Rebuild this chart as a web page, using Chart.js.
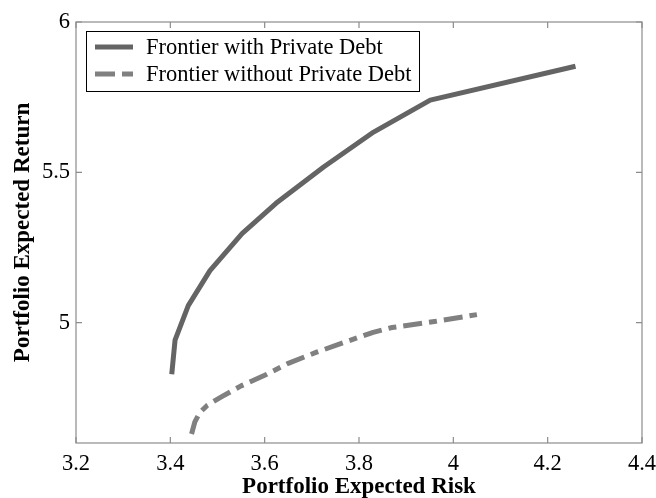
<!DOCTYPE html>
<html>
<head>
<meta charset="utf-8">
<script src="https://cdn.jsdelivr.net/npm/chart.js@4.4.1/dist/chart.umd.min.js"></script>
<style>
html,body{margin:0;padding:0;background:#fff;}
#wrap{width:656px;height:498px;position:relative;}
</style>
</head>
<body>
<div id="wrap"><canvas id="c" width="656" height="498"></canvas></div>
<script>
// Data
const withRisk = [3.403, 3.410, 3.438, 3.484, 3.552, 3.624, 3.725, 3.831, 3.951, 4.259];
const withReturn = [4.829, 4.942, 5.057, 5.173, 5.296, 5.397, 5.518, 5.634, 5.740, 5.853];
const withoutRisk = [3.445, 3.452, 3.462, 3.478, 3.510, 3.550, 3.600, 3.650, 3.710, 3.775, 3.830, 3.870, 3.960, 4.050];
const withoutReturn = [4.630, 4.670, 4.700, 4.725, 4.755, 4.790, 4.825, 4.865, 4.902, 4.938, 4.968, 4.984, 5.004, 5.027];
const xTicks = [3.2, 3.4, 3.6, 3.8, 4.0, 4.2, 4.4];
const yTicks = [5, 5.5, 6];
const seriesLabels = ['Frontier with Private Debt', 'Frontier without Private Debt'];
const xTitle = 'Portfolio Expected Risk';
const yTitle = 'Portfolio Expected Return';

const toPts = (xs, ys) => xs.map((x, i) => ({x: x, y: ys[i]}));
const serif = "'Liberation Serif', 'Times New Roman', serif";

const framePlugin = {
  id: 'frame',
  afterDatasetsDraw(chart) {
    const {ctx, chartArea: a, scales} = chart;
    ctx.save();
    ctx.strokeStyle = '#8c8c8c';
    ctx.lineWidth = 1.2;
    ctx.strokeRect(a.left, a.top, a.right - a.left, a.bottom - a.top);
    const L = 6;
    ctx.beginPath();
    xTicks.forEach(v => {
      const px = scales.x.getPixelForValue(v);
      ctx.moveTo(px, a.bottom); ctx.lineTo(px, a.bottom - L);
      ctx.moveTo(px, a.top); ctx.lineTo(px, a.top + L);
    });
    yTicks.forEach(v => {
      const py = scales.y.getPixelForValue(v);
      ctx.moveTo(a.left, py); ctx.lineTo(a.left + L, py);
      ctx.moveTo(a.right, py); ctx.lineTo(a.right - L, py);
    });
    ctx.stroke();

    // legend box inside the plot
    const bx = 86, by = 31, bw = 333, bh = 60;
    ctx.fillStyle = '#fff';
    ctx.fillRect(bx, by, bw, bh);
    ctx.strokeStyle = '#000';
    ctx.lineWidth = 1;
    ctx.strokeRect(bx + 0.5, by + 0.5, bw, bh);
    ctx.font = '22.5px ' + serif;
    ctx.textBaseline = 'middle';
    chart.data.datasets.forEach((ds, i) => {
      const yy = by + 16 + i * 27;
      ctx.strokeStyle = ds.borderColor;
      ctx.lineWidth = ds.borderWidth;
      ctx.setLineDash(ds.borderDash && ds.borderDash.length ? [20, 7] : []);
      ctx.beginPath();
      ctx.moveTo(95, yy); ctx.lineTo(133, yy);
      ctx.stroke();
      ctx.setLineDash([]);
      ctx.fillStyle = '#000';
      ctx.fillText(ds.label, 146, yy + 1);
    });
    ctx.restore();
  }
};

new Chart(document.getElementById('c'), {
  type: 'line',
  data: {
    datasets: [
      {
        label: seriesLabels[0],
        data: toPts(withRisk, withReturn),
        borderColor: '#646464',
        borderWidth: 5,
        pointRadius: 0,
        tension: 0,
        fill: false,
        borderCapStyle: 'butt',
        borderJoinStyle: 'round'
      },
      {
        label: seriesLabels[1],
        data: toPts(withoutRisk, withoutReturn),
        borderColor: '#808080',
        borderWidth: 5,
        borderDash: [19, 7, 8, 7],
        pointRadius: 0,
        tension: 0,
        fill: false,
        borderCapStyle: 'butt',
        borderJoinStyle: 'round'
      }
    ]
  },
  options: {
    responsive: false,
    animation: false,
    devicePixelRatio: 1,
    layout: {padding: {top: 22, right: 14, left: 0, bottom: 0}},
    plugins: {legend: {display: false}, tooltip: {enabled: false}},
    scales: {
      x: {
        type: 'linear',
        min: 3.2, max: 4.4,
        afterBuildTicks: s => { s.ticks = xTicks.map(v => ({value: v})); },
        afterFit: s => { s.height = 55; s.paddingLeft = 0; s.paddingRight = 0; },
        grid: {display: false, drawTicks: false},
        border: {display: false},
        ticks: {
          color: '#000', padding: 8, maxRotation: 0, autoSkip: false,
          font: {family: serif, size: 22.5},
          callback: v => String(Math.round(v * 10) / 10)
        },
        title: {
          display: true, text: xTitle, color: '#000',
          font: {family: serif, size: 23, weight: 'bold'},
          padding: {top: 0, bottom: -3}
        }
      },
      y: {
        type: 'linear',
        min: 4.6, max: 6,
        afterBuildTicks: s => { s.ticks = yTicks.map(v => ({value: v})); },
        afterFit: s => { s.width = 76; s.paddingTop = 0; s.paddingBottom = 0; },
        grid: {display: false, drawTicks: false},
        border: {display: false},
        ticks: {
          color: '#000', padding: 6,
          font: {family: serif, size: 22.5},
          callback: v => String(v)
        },
        title: {
          display: true, text: yTitle, color: '#000',
          font: {family: serif, size: 23, weight: 'bold'},
          padding: {top: 9, bottom: 0}
        }
      }
    }
  },
  plugins: [framePlugin]
});
</script>
</body>
</html>
